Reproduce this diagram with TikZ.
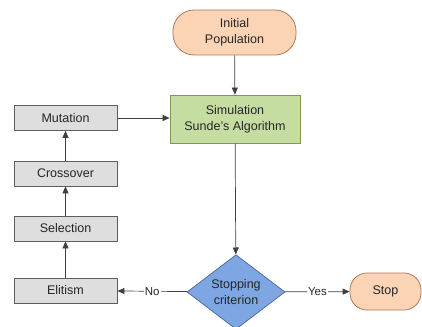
\documentclass[tikz,border=0pt]{standalone}
\usepackage{fontspec}
\setmainfont{Liberation Sans}
\usetikzlibrary{shapes.geometric,arrows.meta}
\definecolor{peachfill}{HTML}{FBD3B5}
\definecolor{peachdraw}{HTML}{B07A5A}
\definecolor{greenfill}{HTML}{C6DDA2}
\definecolor{greendraw}{HTML}{7C9A55}
\definecolor{grayfill}{HTML}{DEDEDE}
\definecolor{graydraw}{HTML}{5E5E5E}
\definecolor{bluefill}{HTML}{7EA6E2}
\definecolor{bluedraw}{HTML}{4F6E9E}
\tikzset{
  every node/.style={font=\fontsize{12.5}{16}\selectfont, text=black!85},
  terminal/.style={draw=peachdraw, fill=peachfill, line width=0.8pt, align=center, inner sep=0pt},
  procbox/.style={draw=greendraw, fill=greenfill, line width=0.8pt, align=center, minimum width=130pt, minimum height=48pt, inner sep=0pt},
  graybox/.style={draw=graydraw, fill=grayfill, line width=0.8pt, minimum width=103pt, minimum height=25pt, inner sep=0pt},
  decision/.style={diamond, draw=bluedraw, fill=bluefill, line width=0.8pt, align=center, minimum width=98pt, minimum height=68pt, inner sep=0pt},
  conn/.style={draw=black!75, line width=0.7pt, -{Triangle[length=7pt,width=6pt]}},
  lbl/.style={fill=white, inner sep=1pt, font=\fontsize{11.5}{13}\selectfont}
}
\begin{document}
\begin{tikzpicture}[x=1pt,y=-1pt]
\useasboundingbox (0,0) rectangle (422,326);
\node[terminal, rounded corners=21pt, minimum width=123pt, minimum height=45pt] (init) at (234.5,32.5) {Initial\\Population};
\node[procbox] (sim) at (235,119) {Simulation\\Sunde's Algorithm};
\node[graybox] (mut) at (65.5,118) {Mutation};
\node[graybox] (cross) at (65.5,173.5) {Crossover};
\node[graybox] (sel) at (65.5,228.5) {Selection};
\node[graybox] (eli) at (65.5,290.5) {Elitism};
\node[decision] (stop?) at (236,292) {Stopping\\criterion};
\node[terminal, rounded corners=17pt, minimum width=71pt, minimum height=37pt] (stop) at (385.5,291.5) {Stop};
\draw[conn] (init) -- (sim);
\draw[conn] (sim) -- (stop?);
\draw[conn] (stop?) -- node[lbl] {No} (eli);
\draw[conn] (stop?) -- node[lbl] {Yes} (stop);
\draw[conn] (eli) -- (sel);
\draw[conn] (sel) -- (cross);
\draw[conn] (cross) -- (mut);
\draw[conn] (mut) -- (sim.west |- mut);
\end{tikzpicture}
\end{document}
